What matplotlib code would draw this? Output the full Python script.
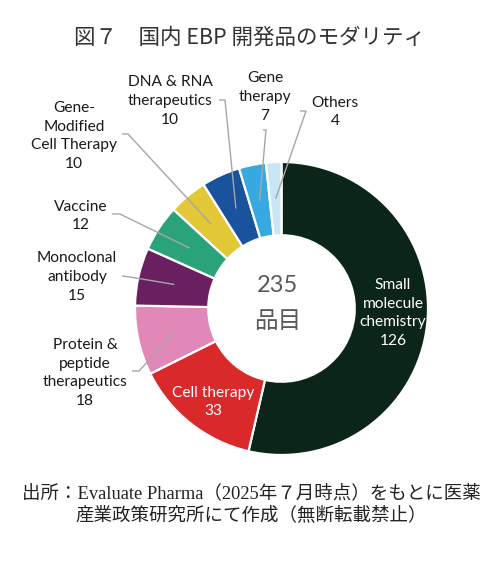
import matplotlib
matplotlib.use("Agg")
import matplotlib.pyplot as plt
import numpy as np

categories = ["Small\nmolecule\nchemistry", "Cell therapy", "Protein &\npeptide\ntherapeutics",
              "Monoclonal\nantibody", "Vaccine", "Gene-\nModified\nCell Therapy",
              "DNA & RNA\ntherapeutics", "Gene\ntherapy", "Others"]
values = [126, 33, 18, 15, 12, 10, 10, 7, 4]
colors = ["#0b2519", "#d9292a", "#e188b9", "#6a1f61", "#2aa37b", "#e2c836",
          "#1a539d", "#38a9e0", "#c8e6f5"]

title = "図７　国内 EBP 開発品のモダリティ"
center_text = ["235", "品目"]
source_lines = ["出所：Evaluate Pharma（2025年７月時点）をもとに医薬",
                "産業政策研究所にて作成（無断転載禁止）"]

W, H = 500, 569
fig = plt.figure(figsize=(W / 100, H / 100), dpi=100)
ax = fig.add_axes([0, 0, 1, 1])

cx, cy, R = 281.5, H - 308.5, 146.5
wedges, _ = ax.pie(values, colors=colors, startangle=90, counterclock=False,
                   center=(cx, cy), radius=R,
                   wedgeprops=dict(width=R * 0.5, edgecolor="white", linewidth=1.6))
ax.set_xlim(0, W)
ax.set_ylim(0, H)
ax.set_aspect("auto")
ax.axis("off")

lab_font = dict(family=["Lato", "DejaVu Sans"], fontsize=11.2, ha="center", va="center",
                linespacing=1.42)

# inside labels
inside = {0: (393, 313), 1: (213, 402)}
for i, (px, py) in inside.items():
    ax.text(px, H - py, f"{categories[i]}\n{values[i]}", color="white", **lab_font)

# outside labels: text position, leader start, elbow
outside = {
    2: ((85, 373), (132, 371), (139, 371)),
    3: ((77, 277), (122, 276), (130, 277)),
    4: ((81, 216), (112, 214), (120, 214)),
    5: ((74, 136), (122, 134), (128, 134)),
    6: ((170, 101), (219, 100), (225, 100)),
    7: ((265, 97), (263, 130), (266, 130)),
    8: ((335, 112), (300, 111), (306, 111)),
}
total = sum(values)
cum = np.cumsum([0] + values)
for i, (tp, sp, ep) in outside.items():
    ax.text(tp[0], H - tp[1], f"{categories[i]}\n{values[i]}", color="#1a1a1a", **lab_font)
    frac = (cum[i] + values[i] / 2) / total
    ang = np.deg2rad(90 - 360 * frac)
    ex, ey = cx + 0.75 * R * np.cos(ang), cy + 0.75 * R * np.sin(ang)
    ax.plot([sp[0], ep[0], ex], [H - sp[1], H - ep[1], ey], color="#a6a6a6", lw=1.0,
            solid_capstyle="butt", zorder=5)

ax.text(278, H - 285, center_text[0], color="#595959", fontsize=17,
        family=["Lato", "DejaVu Sans"], ha="center", va="center")
ax.text(278, H - 322, center_text[1], color="#595959", fontsize=17,
        family=["Noto Sans CJK JP"], ha="center", va="center")

ax.text(250, H - 38, title, color="#333333", fontsize=15.5,
        family=["Noto Sans CJK JP", "DejaVu Sans"], ha="center", va="center")

src_font = dict(family=["Liberation Serif", "Noto Sans CJK JP"], fontsize=13.3,
                color="#222222", va="center", ha="left")
ax.text(22, H - 493, source_lines[0], **src_font)
ax.text(75, H - 515, source_lines[1], **src_font)

fig.savefig("out.png", dpi=100)
